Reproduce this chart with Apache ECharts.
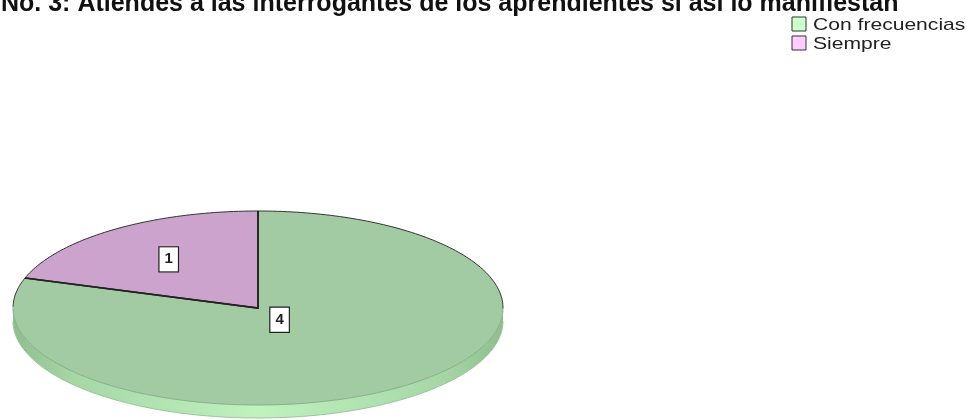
<!DOCTYPE html>
<html>
<head>
<meta charset="utf-8">
<script src="https://cdn.jsdelivr.net/npm/echarts@6/dist/echarts.min.js"></script>
<style>
html,body{margin:0;padding:0;background:#fff;}
#chart{width:967px;height:420px;}
</style>
</head>
<body>
<div id="chart"></div>
<script>
// ---- data ----
const titleText = 'No. 3: Atiendes a las interrogantes de los aprendientes si así lo manifiestan';
const categories = ['Con frecuencias', 'Siempre'];
const values = [4, 1];

// ---- style / layout ----
const topColors = ['#a3cba3', '#cca3cc'];
const legendColors = ['#ccffcc', '#ffccff'];
const CX = 258, CY = 308, RX = 245, RY = 97, DEPTH = 13;
const START = Math.PI / 2;
const LABEL_FRAC = [0.15, 0.62];
const LEGEND_SCALE = 1.24;

const total = values.reduce((a, b) => a + b, 0);
function pt(t, dy) { return [CX + RX * Math.cos(t), CY - RY * Math.sin(t) + (dy || 0)]; }
function arcPts(a, b, dy) {
  const n = Math.max(2, Math.ceil(Math.abs(b - a) / 0.02));
  const out = [];
  for (let k = 0; k <= n; k++) out.push(pt(a + (b - a) * k / n, dy));
  return out;
}

const sideFill = {
  type: 'linear', x: CX - RX, y: 0, x2: CX + RX, y2: 0, global: true,
  colorStops: [
    { offset: 0, color: '#8fbd8f' },
    { offset: 0.12, color: '#a6d6a6' },
    { offset: 0.5, color: '#bff2bf' },
    { offset: 0.88, color: '#a6d6a6' },
    { offset: 1, color: '#8fbd8f' }
  ]
};

function renderItem(params, api) {
  const i = params.dataIndex;
  let before = 0;
  for (let j = 0; j < i; j++) before += values[j];
  const v = api.value(0);
  const t1 = START - 2 * Math.PI * before / total;
  const t2 = t1 - 2 * Math.PI * v / total;
  const children = [];

  // side (visible where sin(t) < 0)
  for (let k = -2; k <= 1; k++) {
    const lo = Math.max(t2, Math.PI + 2 * k * Math.PI);
    const hi = Math.min(t1, 2 * Math.PI + 2 * k * Math.PI);
    if (hi > lo) {
      const pts = arcPts(hi, lo, 0).concat(arcPts(lo, hi, DEPTH));
      children.push({ type: 'polygon', z2: 1, shape: { points: pts }, style: { fill: sideFill, stroke: null } });
      children.push({ type: 'polyline', z2: 2, shape: { points: arcPts(lo, hi, DEPTH) }, style: { fill: null, stroke: '#9cc59c', lineWidth: 1 } });
    }
  }

  // top face
  const arc = arcPts(t1, t2, 0);
  children.push({ type: 'polygon', z2: 10, shape: { points: [[CX, CY]].concat(arc) }, style: { fill: topColors[i], stroke: null } });
  let seg = [arc[0]], upper = Math.sin(t1) >= 0;
  const n = arc.length - 1;
  for (let k = 1; k <= n; k++) {
    const t = t1 + (t2 - t1) * k / n;
    const u = Math.sin(t) >= 0;
    seg.push(arc[k]);
    if (u !== upper || k === n) {
      children.push({ type: 'polyline', z2: 12, shape: { points: seg }, style: { fill: null, stroke: upper ? '#333' : '#86b086', lineWidth: 1 } });
      seg = [arc[k]]; upper = u;
    }
  }
  children.push({ type: 'polyline', z2: 13, shape: { points: [pt(t1), [CX, CY], pt(t2)] }, style: { fill: null, stroke: '#222', lineWidth: 1.6 } });

  // label
  const tm = (t1 + t2) / 2, f = LABEL_FRAC[i];
  children.push({
    type: 'text', z2: 20,
    x: CX + RX * f * Math.cos(tm), y: CY - RY * f * Math.sin(tm),
    style: {
      text: String(v), fontSize: 15, fontWeight: 'bold', fontFamily: 'Liberation Sans',
      fill: '#222', align: 'center', verticalAlign: 'middle',
      backgroundColor: '#fff', borderColor: '#222', borderWidth: 1.2,
      padding: [5, 5, 4, 5]
    }
  });
  return { type: 'group', children: children };
}

const legendGraphics = [];
categories.forEach((c, i) => {
  const y = 17 + i * 19;
  legendGraphics.push({ type: 'rect', shape: { x: 792, y: y, width: 14, height: 14 }, style: { fill: legendColors[i], stroke: '#333', lineWidth: 1 } });
  legendGraphics.push({ type: 'text', x: 813, y: y + 8, scaleX: LEGEND_SCALE, style: { text: c, fontSize: 17, fontFamily: 'Liberation Sans', fill: '#222', align: 'left', verticalAlign: 'middle' } });
});

const chart = echarts.init(document.getElementById('chart'), null, { renderer: 'canvas' });
chart.setOption({
  backgroundColor: '#fff',
  animation: false,
  graphic: [
    { type: 'text', x: 1, y: 4, style: { text: titleText, fontSize: 25, fontWeight: 'bold', fontFamily: 'Liberation Sans', fill: '#111', align: 'left', verticalAlign: 'middle' } }
  ].concat(legendGraphics),
  series: [{
    type: 'custom',
    coordinateSystem: 'none',
    renderItem: renderItem,
    data: values.map((v, i) => ({ name: categories[i], value: [v] }))
  }]
});
</script>
</body>
</html>
